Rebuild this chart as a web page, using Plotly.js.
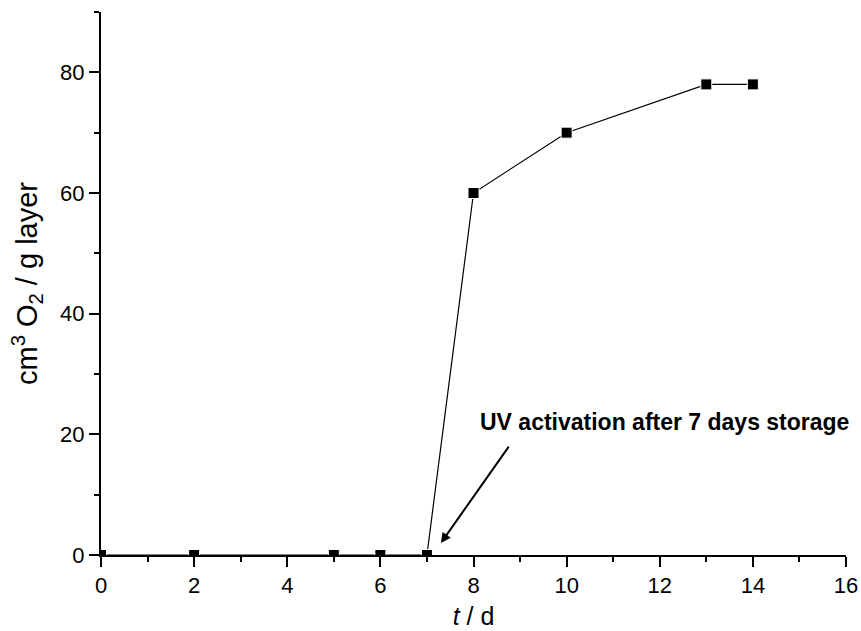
<!DOCTYPE html>
<html>
<head>
<meta charset="utf-8">
<script src="https://cdn.plot.ly/plotly-3.0.1.min.js"></script>
<style>html,body{margin:0;padding:0;background:#fff;}#chart{width:861px;height:631px;}</style>
</head>
<body>
<div id="chart"></div>
<script>
const days = [0, 2, 5, 6, 7, 8, 10, 13, 14];
const oxygen = [0, 0, 0, 0, 0, 60, 70, 78, 78];
const xTitle = "<i>t</i> / d";
const yTitle = "cm<sup>3</sup> O<sub>2</sub> / g layer";
const noteText = "UV activation after 7 days storage";
const notePos = {x: 12.1, y: 22.1};
const arrowHead = {x: 7.3, y: 2};
const arrowTail = {x: 8.78, y: 18.2};

const font = "Arial, 'Liberation Sans', sans-serif";

const trace = {
  x: days, y: oxygen, type: "scatter", mode: "lines+markers",
  line: {color: "#000", width: 1.2},
  marker: {symbol: "square", size: 11, color: "#000", line: {color: "#fff", width: 1}},
  cliponaxis: true, showlegend: false
};

const axisCommon = {
  showline: true, linecolor: "#000", linewidth: 2,
  ticks: "outside", ticklen: 10, tickwidth: 2, tickcolor: "#000",
  showgrid: false, zeroline: false, mirror: false,
  tickfont: {family: font, size: 22, color: "#000"}
};

const layout = {
  width: 861, height: 631,
  margin: {l: 101, r: 15, t: 12, b: 76},
  paper_bgcolor: "#fff", plot_bgcolor: "#fff",
  font: {family: font, color: "#000"},
  xaxis: Object.assign({}, axisCommon, {
    range: [0, 16], tick0: 0, dtick: 2,
    minor: {ticks: "outside", ticklen: 5, tickwidth: 2, tickcolor: "#000", dtick: 1, tick0: 0},
    title: {text: xTitle, font: {family: font, size: 25, color: "#000"}, standoff: 10}
  }),
  yaxis: Object.assign({}, axisCommon, {
    range: [0, 90], tick0: 0, dtick: 20,
    minor: {ticks: "outside", ticklen: 5, tickwidth: 2, tickcolor: "#000", dtick: 10, tick0: 0},
    title: {text: yTitle, font: {family: font, size: 29, color: "#000"}, standoff: 14}
  }),
  annotations: [
    {x: arrowHead.x, y: arrowHead.y, xref: "x", yref: "y",
     ax: arrowTail.x, ay: arrowTail.y, axref: "x", ayref: "y",
     text: "", showarrow: true, arrowhead: 2, arrowsize: 1, arrowwidth: 2, arrowcolor: "#000"},
    {x: notePos.x, y: notePos.y, xref: "x", yref: "y", text: "<b>" + noteText + "</b>",
     showarrow: false, font: {family: font, size: 23, color: "#000"}, xanchor: "center", yanchor: "middle"}
  ]
};

Plotly.newPlot("chart", [trace], layout, {displayModeBar: false, staticPlot: true});
</script>
</body>
</html>
